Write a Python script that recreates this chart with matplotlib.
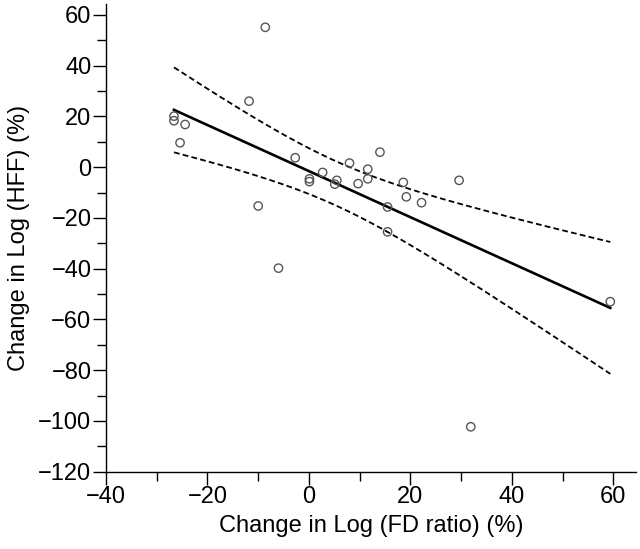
import numpy as np
import matplotlib
matplotlib.use("Agg")
import matplotlib.pyplot as plt
from matplotlib.ticker import MultipleLocator

# change in log FD ratio (%) and change in log HFF (%)
fd_change = [-8.6, -11.8, -26.6, -26.6, -24.4, -25.4, -10.0, -2.7, 0.1, 0.1,
             2.7, 5.5, 5.1, 8.0, 9.7, 11.6, 11.6, 14.0, 15.5, 15.5,
             18.6, 19.2, 22.2, 29.6, -6.0, 31.9, 59.4]
hff_change = [55.1, 26.0, 20.1, 18.3, 16.8, 9.6, -15.3, 3.7, -4.6, -5.7,
              -2.1, -5.2, -6.7, 1.6, -6.5, -0.8, -4.6, 5.9, -15.7, -25.5,
              -6.0, -11.7, -14.0, -5.2, -39.8, -102.3, -53.0]

x_ticks = [-40, -20, 0, 20, 40, 60]
y_ticks = [-120, -100, -80, -60, -40, -20, 0, 20, 40, 60]

plt.rcParams['font.family'] = ['Liberation Sans', 'DejaVu Sans']

x = np.array(fd_change)
y = np.array(hff_change)
n = len(x)

# least squares fit and 95% confidence band of the mean
slope, intercept = np.polyfit(x, y, 1)
resid = y - (slope * x + intercept)
s = np.sqrt(np.sum(resid ** 2) / (n - 2))
xs = np.linspace(x.min(), x.max(), 200)
fit = slope * xs + intercept
t_val = 2.060  # t(0.975, 25)
se = s * np.sqrt(1.0 / n + (xs - x.mean()) ** 2 / np.sum((x - x.mean()) ** 2))

fig = plt.figure(figsize=(6.4, 5.49), dpi=100)
ax = fig.add_axes([0.1656, 0.1408, 0.8284, 0.852])

ax.scatter(x, y, s=36, facecolors='none', edgecolors='#555555', linewidths=1.0, zorder=3)
ax.plot(xs, fit, color='black', lw=1.9)
ax.plot(xs, fit + t_val * se, color='black', lw=1.3, linestyle=(0, (3.2, 1.8)))
ax.plot(xs, fit - t_val * se, color='black', lw=1.3, linestyle=(0, (3.2, 1.8)))

ax.set_xlim(-40, 64.5)
ax.set_ylim(-120, 64.3)
ax.set_xticks(x_ticks)
ax.set_yticks(y_ticks)
ax.set_xticklabels([str(v).replace('-', '\u2212') for v in x_ticks])
ax.set_yticklabels([str(v).replace('-', '\u2212') for v in y_ticks])
ax.xaxis.set_minor_locator(MultipleLocator(10))
ax.yaxis.set_minor_locator(MultipleLocator(10))

ax.spines['top'].set_visible(False)
ax.spines['right'].set_visible(False)
ax.spines['left'].set_linewidth(1.0)
ax.spines['bottom'].set_linewidth(1.0)
ax.tick_params(which='major', direction='out', length=9.5, width=1.0, labelsize=17, pad=1)
ax.tick_params(which='minor', direction='out', length=6.5, width=1.0)

ax.set_xlabel('Change in Log (FD ratio) (%)', fontsize=17, labelpad=5)
ax.set_ylabel('Change in Log (HFF) (%)', fontsize=17, labelpad=6)

fig.savefig('out.png', dpi=100)
